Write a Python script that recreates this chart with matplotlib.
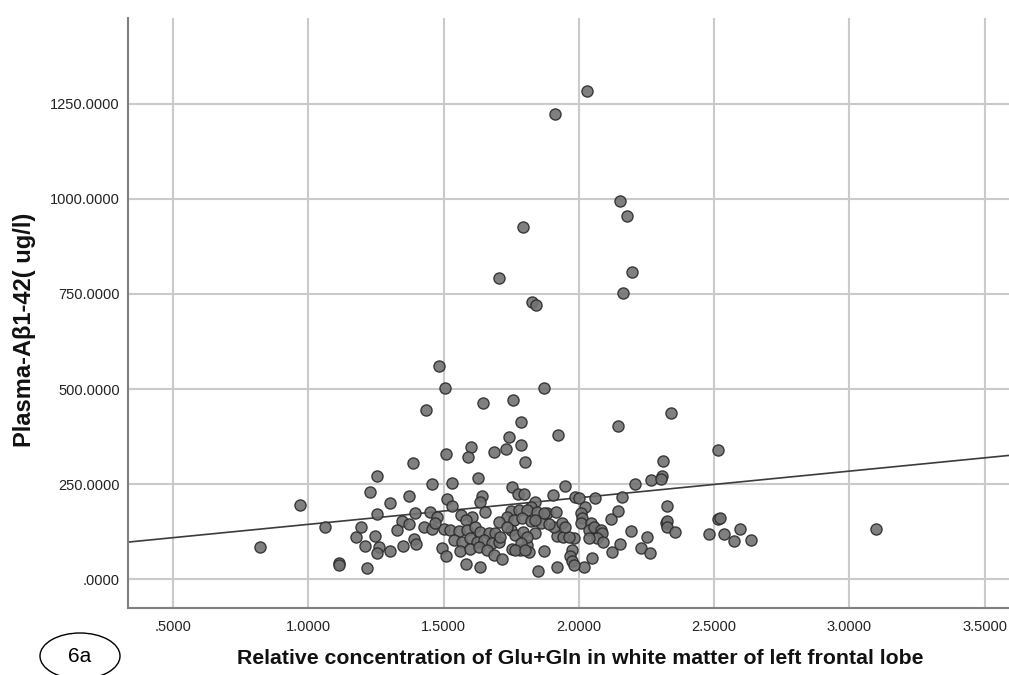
import numpy as np
import matplotlib.pyplot as plt
from matplotlib.patches import Ellipse
from matplotlib.ticker import FixedLocator, FuncFormatter

plt.rcParams['font.family'] = ['Liberation Sans', 'DejaVu Sans']

# (relative Glu+Gln concentration, plasma Abeta1-42 in ug/l)
high_points = [
    (2.031, 1285), (1.910, 1224), (2.150, 995), (2.176, 954), (1.794, 925),
    (1.703, 792), (2.197, 808), (2.164, 752), (1.827, 728), (1.843, 721),
]

mid_points = [
    (1.482, 560), (1.503, 502), (1.870, 503), (1.436, 445), (1.647, 463),
    (1.757, 471), (2.339, 437), (2.145, 403), (1.787, 413), (1.922, 378),
    (1.740, 373), (1.602, 348), (1.787, 353), (1.507, 328), (1.591, 320),
    (1.685, 335), (1.732, 341), (1.800, 309), (2.515, 339), (2.309, 311),
    (1.388, 306), (1.254, 272), (1.626, 267), (1.458, 250), (1.532, 253),
    (1.754, 242), (1.948, 246), (2.207, 250), (2.267, 260), (2.307, 271),
    (2.304, 262),
]

upper_core = [
    (1.775, 225), (1.796, 223), (1.642, 219), (1.513, 210), (1.530, 193),
    (1.636, 202), (1.905, 220), (1.987, 217), (2.001, 214), (2.059, 212),
    (2.160, 217), (2.326, 193), (1.839, 202), (1.824, 190), (2.022, 190),
    (2.117, 157), (2.145, 179), (1.226, 229), (1.371, 218), (1.303, 200),
    (0.967, 196), (1.254, 171), (1.395, 174), (2.322, 147), (2.515, 157),
    (2.522, 161),
]

right_points = [
    (2.193, 126), (2.252, 111), (2.230, 83), (2.261, 68), (2.326, 153),
    (2.324, 138), (2.355, 124), (2.482, 118), (2.538, 118), (2.595, 131),
    (2.573, 99), (2.635, 103), (3.097, 131), (2.122, 72), (2.151, 92),
    (2.048, 55), (2.017, 31),
]

dense_core = [
    (1.981, 107), (1.975, 76), (1.966, 60), (1.974, 48), (1.982, 36),
    (1.919, 114), (1.940, 111), (1.962, 112), (1.907, 138),
    (1.451, 177), (1.476, 164), (1.564, 168), (1.605, 164), (1.584, 155),
    (1.654, 177), (1.747, 180), (1.778, 183), (1.808, 183), (1.845, 177),
    (1.882, 174), (1.917, 177), (1.735, 164), (1.759, 155), (1.790, 160),
    (1.821, 153), (1.858, 147), (1.889, 145), (1.938, 147), (1.950, 138),
    (1.704, 151), (1.500, 131), (1.525, 129), (1.556, 127), (1.587, 129),
    (1.617, 138), (1.636, 124), (1.667, 120), (1.691, 122), (1.537, 103),
    (1.568, 98), (1.596, 107), (1.624, 98), (1.648, 103), (1.679, 94),
    (1.704, 98), (1.747, 129), (1.765, 116), (1.794, 124), (1.836, 120),
    (1.494, 83), (1.510, 61), (1.559, 75), (1.599, 78), (1.630, 85),
    (1.661, 76), (1.685, 63), (1.716, 54), (1.753, 78), (1.781, 76),
    (1.809, 89), (1.815, 72), (1.870, 74), (1.584, 39), (1.633, 32),
    (1.848, 22), (1.919, 31),
    (2.006, 173), (2.012, 160), (2.006, 147), (2.043, 147), (2.037, 129),
    (2.055, 138), (2.080, 129), (2.086, 120), (2.067, 107), (2.090, 98),
    (2.037, 107), (1.870, 173), (1.839, 155), (1.808, 111), (1.784, 94),
    (1.765, 76), (1.802, 76), (1.710, 111), (1.735, 138),
]

left_points = [
    (1.346, 153), (1.371, 145), (1.328, 129), (1.426, 138), (1.177, 110),
    (1.247, 114), (1.389, 105), (1.399, 92), (1.260, 85), (1.254, 69),
    (1.208, 87), (1.300, 75), (1.348, 87), (0.822, 85), (1.114, 42),
    (1.112, 38), (1.217, 29), (1.060, 138), (1.194, 136), (1.457, 133),
    (1.469, 147),
]

# fit line at total
fit_intercept = 74.0
fit_slope = 70.0

x_ticks = [0.5, 1.0, 1.5, 2.0, 2.5, 3.0, 3.5]
y_ticks = [0, 250, 500, 750, 1000, 1250]

points = np.array(high_points + mid_points + upper_core + right_points
                  + dense_core + left_points)


def spss_fmt(v, pos=None):
    s = f"{v:.4f}"
    if s.startswith("0."):
        s = s[1:]
    return s


fig = plt.figure(figsize=(10.09, 6.75), dpi=100)
ax = fig.add_axes([0.1269, 0.0993, 0.8731, 0.874])
ax.set_xlim(0.333, 3.59)
ax.set_ylim(-76, 1476)

ax.scatter(points[:, 0], points[:, 1], s=64, c='#727272',
           edgecolors='#2b2b2b', linewidths=1.0, alpha=0.9, zorder=3)

line_x = np.array(ax.get_xlim())
ax.plot(line_x, fit_intercept + fit_slope * line_x, color='#3c3c3c',
        lw=1.2, zorder=2)

ax.xaxis.set_major_locator(FixedLocator(x_ticks))
ax.yaxis.set_major_locator(FixedLocator(y_ticks))
ax.xaxis.set_major_formatter(FuncFormatter(spss_fmt))
ax.yaxis.set_major_formatter(FuncFormatter(spss_fmt))
ax.grid(True, color='#cacaca', lw=1.5)
ax.set_axisbelow(True)

for side in ['top', 'right']:
    ax.spines[side].set_visible(False)
for side in ['left', 'bottom']:
    ax.spines[side].set_color('#808080')
    ax.spines[side].set_linewidth(1.5)

ax.tick_params(axis='both', length=0, labelsize=10.5, colors='#222222')
ax.tick_params(axis='y', pad=6)
ax.tick_params(axis='x', pad=9)

fig.text(0.575, 1 - 659 / 675,
         'Relative concentration of Glu+Gln in white matter of left frontal lobe',
         ha='center', va='center', fontsize=15.3, fontweight='bold',
         color='#111111')
fig.text(0.024, 1 - 330 / 675, 'Plasma-Aβ1-42( ug/l)', rotation=90,
         ha='center', va='center', fontsize=17, fontweight='bold',
         color='#111111')

fig.add_artist(Ellipse((80 / 1009, 1 - 656 / 675), width=80 / 1009,
                       height=46 / 675, transform=fig.transFigure,
                       fill=False, ec='black', lw=1.0))
fig.text(80 / 1009, 1 - 657 / 675, '6a', ha='center', va='center',
         fontsize=15)

fig.savefig('out.png', dpi=100)
